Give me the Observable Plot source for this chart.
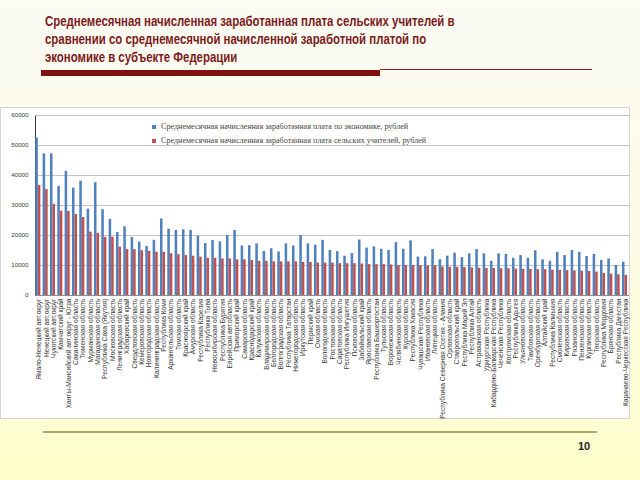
<!DOCTYPE html>
<html><head><meta charset="utf-8">
<script src="https://cdn.jsdelivr.net/npm/d3@7"></script>
<script src="https://cdn.jsdelivr.net/npm/@observablehq/plot@0.6"></script>
<style>
html,body{margin:0;padding:0;}
body{width:640px;height:480px;position:relative;overflow:hidden;background:linear-gradient(#fcfbf4 0%, #fdfce8 45%, #ffffcc 100%);font-family:"Liberation Sans",Arial,sans-serif;}
#title{position:absolute;left:45px;top:12px;white-space:nowrap;font:bold 14px/18px "Liberation Sans",Arial,sans-serif;color:#7b1c1c;transform:scaleX(0.814);transform-origin:0 0;}
#bar{position:absolute;left:41px;top:70px;width:339px;height:6px;background:#7f1010;}
#thin{position:absolute;left:380px;top:69px;width:212px;height:1px;background:#8b2020;}
#chart{position:absolute;left:0;top:107px;width:630px;height:312px;box-sizing:border-box;border:1px solid #d4d4d4;background:#fff;}
#chart svg{display:block;}
#chart svg [aria-label^="y-axis"] path,#chart svg [aria-label^="y-axis"] line,#chart svg .domain{stroke:#8c8c8c;}
#chart svg [aria-label^="y-axis"] text{font-size:6.2px;}
#legend{position:absolute;left:152px;top:120px;font:8.1px/14px "Liberation Serif","Times New Roman",serif;color:#444;}
.sw{display:inline-block;width:4px;height:4px;margin-right:5px;vertical-align:middle;}
#foot{position:absolute;left:43px;top:431px;width:554px;height:2px;background:#b5a36e;}
#page{position:absolute;left:578px;top:440px;font:bold 11px "Liberation Sans",Arial,sans-serif;color:#222;}
</style>
</head>
<body>
<div id="title">Среднемесячная начисленная заработанная плата сельских учителей в<br>сравнении со среднемесячной начисленной заработной платой по<br>экономике в субъекте Федерации</div>
<div id="bar"></div><div id="thin"></div>
<div id="chart"></div>
<div id="legend"></div>
<div id="foot"></div>
<div id="page">10</div>
<script>
const regions = [
"Ямало-Ненецкий авт.округ","Ненецкий авт.округ","Чукотский авт.округ","Камчатский край",
"Ханты-Мансийский авт.округ - Югра","Сахалинская область","Тюменская область","Мурманская область",
"Магаданская область","Республика Саха (Якутия)","Московская область","Ленинградская область",
"Хабаровский край","Свердловская область","Кемеровская область","Новгородская область",
"Калининградская область","Республика Коми","Архангельская область","Томская область",
"Красноярский край","Амурская область","Республика Карелия","Республика Тыва",
"Новосибирская область","Республика Бурятия","Еврейская авт.область","Приморский край",
"Самарская область","Краснодарский край","Калужская область","Владимирская область",
"Белгородская область","Волгоградская область","Республика Татарстан","Нижегородская область",
"Иркутская область","Пермский край","Омская область","Вологодская область",
"Ростовская область","Саратовская область","Республика Ингушетия","Псковская область",
"Забайкальский край","Ярославская область","Республика Башкортостан","Тульская область",
"Воронежская область","Челябинская область","Курская область","Республика Хакасия",
"Чувашская Республика","Ивановская область","Липецкая область","Республика Северная Осетия - Алания",
"Орловская область","Ставропольский край","Республика Марий Эл","Республика Алтай",
"Астраханская область","Удмуртская Республика","Кабардино-Балкарская Республика","Чеченская Республика",
"Костромская область","Республика Адыгея","Ульяновская область","Тамбовская область",
"Оренбургская область","Алтайский край","Республика Калмыкия","Смоленская область",
"Кировская область","Рязанская область","Пензенская область","Курганская область",
"Тверская область","Республика Мордовия","Брянская область","Республика Дагестан",
"Карачаево-Черкесская Республика"
];
const economy = [
52500,47200,47200,36400,41400,35800,38100,28800,37600,28600,25400,21000,22900,19300,17800,16400,
18400,25500,22100,21700,21900,21700,19800,17300,18300,17900,20000,21700,16500,16600,17200,14700,
15600,14500,17200,16500,20000,17200,16800,18400,15000,14600,13100,14000,18500,15800,16200,15400,
15000,17600,15400,18200,12800,12900,15300,11900,13100,14100,12600,13900,15300,13900,11400,13900,
13700,12400,13300,12400,14900,11900,11400,14400,13300,15000,14400,13000,13700,11700,12200,10000,11100
];
const teachers = [
36700,35300,30300,28100,28000,27000,26000,21100,20700,19400,19400,16100,15300,15300,14900,14700,
14400,14400,13900,13600,13300,13100,12800,12400,12400,12200,12200,11900,11900,11700,11400,11400,
11200,11200,11200,11200,11000,11000,10800,10800,10800,10600,10600,10600,10500,10300,10300,10300,
10200,10000,10000,10000,9900,9900,9900,9500,9400,9400,9300,9200,9100,9000,9000,8900,
8900,8800,8700,8700,8600,8600,8400,8400,8300,8200,8100,8000,7800,7300,7100,6900,6700
];
const yTicks = [0,10000,20000,30000,40000,50000,60000];
const seriesNames = [
"Среднемесячная начисленная заработанная плата по экономике, рублей",
"Среднемесячная начисленная заработанная плата сельских учителей, рублей"
];
const colors = ["#4f81bd","#c0504d"];

const plot = Plot.plot({
  width: 628, height: 310,
  marginLeft: 34, marginRight: 0, marginTop: 7, marginBottom: 123,
  style: {background: "white", fontFamily: "Liberation Sans, Arial, sans-serif", fontSize: "6.6px", color: "#3a3a3a", overflow: "visible"},
  x: {domain: regions, padding: 0, round: false, tickRotate: -90, tickSize: 0, tickPadding: 3, label: null},
  y: {domain: [0, 60000], ticks: yTicks, tickFormat: d => String(d), tickSize: 0, tickPadding: 7, label: null, line: true},
  marks: [
    Plot.ruleY(yTicks, {y: d => d, stroke: d => d === 0 ? "#8c8c8c" : "#c4c4c4", strokeWidth: 1}),
    Plot.barY(regions, {x: d => d, y: (d, i) => economy[i], fill: colors[0], insetLeft: 0.3, insetRight: 4.5}),
    Plot.barY(regions, {x: d => d, y: (d, i) => teachers[i], fill: colors[1], insetLeft: 2.8, insetRight: 2.0})
  ]
});
document.getElementById("chart").appendChild(plot);

const lg = document.getElementById("legend");
seriesNames.forEach((s, i) => {
  const row = document.createElement("div");
  row.innerHTML = `<span class="sw" style="background:${colors[i]}"></span>${s}`;
  lg.appendChild(row);
});
</script>
</body></html>
